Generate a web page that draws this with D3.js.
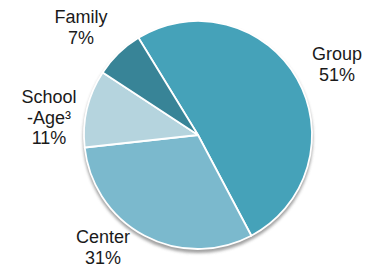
<!DOCTYPE html>
<html>
<head>
<meta charset="utf-8">
<script src="https://cdn.jsdelivr.net/npm/d3@7"></script>
<style>
  html, body { margin: 0; padding: 0; background: #fff; }
  #pieChart { width: 372px; height: 266px; }
  text { font-family: "Liberation Sans", Arial, sans-serif; fill: #1a1a1a; }
</style>
</head>
<body>
<div id="pieChart"></div>
<script>
// care types and their share (percent)
const categories = ["Group", "Center", "School\n-Age³", "Family"];
const shares = [51, 31, 11, 7];
const colors = ["#45a2b9", "#7bb9cd", "#b5d4de", "#388497"];

// where each label block sits (centre x, first baseline y)
const labelPos = [[337, 60], [103, 243], [49, 103], [81, 23]];

const width = 372;
const height = 266;
const cx = 198;
const cy = 135;
const radius = 114;
const lineGap = 20.5;

const svg = d3
  .select("#pieChart")
  .append("svg")
  .attr("width", width)
  .attr("height", height)
  .attr("viewBox", `0 0 ${width} ${height}`);

// soft shadow under the pie
const defs = svg.append("defs");
defs
  .append("filter")
  .attr("id", "shadow")
  .attr("x", "-20%")
  .attr("y", "-20%")
  .attr("width", "140%")
  .attr("height", "140%")
  .append("feGaussianBlur")
  .attr("stdDeviation", 1.6);

const g = svg.append("g").attr("transform", `translate(${cx}, ${cy})`);

g.append("circle")
  .attr("cx", 0)
  .attr("cy", 3)
  .attr("r", radius + 1)
  .attr("fill", "#8a8a8a")
  .attr("opacity", 0.8)
  .attr("filter", "url(#shadow)");

const data = categories.map((c, i) => ({ label: c, value: shares[i], color: colors[i] }));

const startAngle = (-31.5 * Math.PI) / 180;
const pie = d3
  .pie()
  .value(d => d.value)
  .sort(null)
  .startAngle(startAngle)
  .endAngle(startAngle + 2 * Math.PI);

const arc = d3.arc().innerRadius(0).outerRadius(radius);

g.selectAll("path")
  .data(pie(data))
  .enter()
  .append("path")
  .attr("d", arc)
  .attr("fill", d => d.data.color)
  .attr("stroke", "white")
  .attr("stroke-width", 1.8)
  .attr("stroke-linejoin", "round");

// labels: name on one or two lines, then the percent
const labels = svg
  .selectAll(".label")
  .data(data)
  .enter()
  .append("text")
  .attr("class", "label")
  .attr("text-anchor", "middle")
  .style("font-size", "18px");

labels.each(function (d, i) {
  const lines = d.label.split("\n").concat(`${d.value}%`);
  const [x, y] = labelPos[i];
  d3.select(this)
    .selectAll("tspan")
    .data(lines)
    .enter()
    .append("tspan")
    .attr("x", x)
    .attr("y", (l, j) => y + j * lineGap)
    .text(l => l);
});
</script>
</body>
</html>
